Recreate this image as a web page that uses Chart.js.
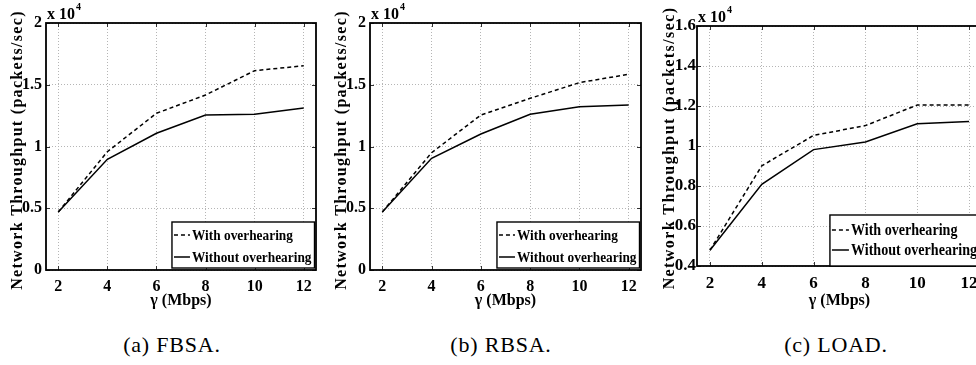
<!DOCTYPE html>
<html><head><meta charset="utf-8">
<script src="https://cdn.jsdelivr.net/npm/chart.js@4"></script>
<style>
html,body{margin:0;padding:0;background:#fff;width:976px;height:365px;overflow:hidden;position:relative}
canvas{position:absolute;top:0}
.cap{position:absolute;top:334px;font-family:"Liberation Serif",serif;font-size:22px;line-height:22px;color:#000;white-space:nowrap;transform:translateX(-50%);letter-spacing:0.8px}
</style></head><body>
<canvas id="ca" width="322" height="315" style="left:0px"></canvas>
<canvas id="cb" width="324" height="315" style="left:324px"></canvas>
<canvas id="cc" width="340" height="315" style="left:652px"></canvas>
<div class="cap" id="capA" style="left:172px"></div>
<div class="cap" id="capB" style="left:501px"></div>
<div class="cap" id="capC" style="left:836px"></div>
<script>
// ---- data ----
const gammaMbps = [2, 4, 6, 8, 10, 12];
const seriesLabels = ['With overhearing', 'Without overhearing'];
const fbsaWith    = [4700, 9580, 12690, 14170, 16140, 16540];
const fbsaWithout = [4700, 8960, 11070, 12550, 12610, 13120];
const rbsaWith    = [4700, 9500, 12550, 13900, 15170, 15850];
const rbsaWithout = [4700, 9040, 11010, 12610, 13220, 13360];
const loadWith    = [4790, 9010, 10530, 11020, 12050, 12050];
const loadWithout = [4790, 8080, 9820, 10200, 11110, 11220];
const yTicksAB = [0, 5000, 10000, 15000, 20000];
const yTicksC  = [4000, 6000, 8000, 10000, 12000, 14000, 16000];
const captions = ['(a) FBSA.', '(b) RBSA.', '(c) LOAD.'];
const yTitle = 'Network Throughput (packets/sec)';
const xTitle = 'γ (Mbps)';
const expBase = 'x 10', expPow = '4';

const FONT = '"Liberation Serif", "Times New Roman", serif';

const framePlugin = {
  id: 'matlabFrame',
  afterDatasetsDraw(chart, args, o) {
    const {ctx, chartArea: a, scales: {x, y}} = chart;
    ctx.save();
    // inward tick marks
    ctx.strokeStyle = '#333'; ctx.lineWidth = 1; ctx.setLineDash([]);
    ctx.beginPath();
    x.ticks.forEach(t => { const px = Math.round(x.getPixelForValue(t.value)) + 0.5;
      ctx.moveTo(px, a.bottom); ctx.lineTo(px, a.bottom - 4); ctx.moveTo(px, a.top); ctx.lineTo(px, a.top + 4); });
    y.ticks.forEach(t => { const py = Math.round(y.getPixelForValue(t.value)) + 0.5;
      ctx.moveTo(a.left, py); ctx.lineTo(a.left + 4, py); ctx.moveTo(a.right, py); ctx.lineTo(a.right - 4, py); });
    ctx.stroke();
    // axes box
    ctx.strokeStyle = '#000'; ctx.lineWidth = 1.8;
    ctx.strokeRect(a.left, a.top, a.right - a.left, a.bottom - a.top);
    // legend (inside, bottom right)
    const ds = chart.data.datasets;
    ctx.font = `bold ${o.legendFont}px ${FONT}`;
    const tw = Math.max(...ds.map(d => ctx.measureText(d.label).width)) * o.legendSX;
    const sample = o.sample;
    const w = 3 + sample + 2 + tw + 2;
    const h = o.legendH;
    const bx = a.right - o.legendGapR - w, by = a.bottom - o.legendGapB - h;
    ctx.fillStyle = '#fff'; ctx.fillRect(bx, by, w, h);
    ctx.lineWidth = 1.4; ctx.strokeRect(bx, by, w, h);
    ds.forEach((d, i) => {
      const cy = by + o.row1 + i * o.rowGap;
      ctx.setLineDash(d.borderDash || []); ctx.lineWidth = d.borderWidth; ctx.strokeStyle = d.borderColor;
      ctx.beginPath(); ctx.moveTo(bx + 2, cy); ctx.lineTo(bx + 2 + sample, cy); ctx.stroke();
      ctx.setLineDash([]);
      ctx.save();
      ctx.translate(bx + 4 + sample, cy + 1);
      ctx.scale(o.legendSX, 1);
      ctx.fillStyle = '#000'; ctx.textBaseline = 'middle'; ctx.textAlign = 'left';
      ctx.fillText(d.label, 0, 0);
      ctx.restore();
    });
    // exponent label
    ctx.fillStyle = '#000'; ctx.textBaseline = 'alphabetic'; ctx.textAlign = 'left';
    ctx.font = `bold ${o.expFont}px ${FONT}`;
    ctx.fillText(expBase, a.left + 1, a.top - 4);
    const ew = ctx.measureText(expBase).width;
    ctx.font = `bold ${Math.round(o.expFont * 0.65)}px ${FONT}`;
    ctx.fillText(expPow, a.left + 2 + ew, a.top - 13);
    // y-axis title
    ctx.translate(a.left - o.titleOff, o.titleCY);
    ctx.rotate(-Math.PI / 2);
    ctx.font = `bold ${o.titleFont}px ${FONT}`;
    ctx.letterSpacing = o.titleSpacing + 'px';
    ctx.textAlign = 'center'; ctx.textBaseline = 'middle';
    ctx.fillText(yTitle, 0, 0);
    ctx.restore();
  }
};

function fmt(v) { return String(+(v / 1e4).toFixed(2)); }

function makePanel(id, withArr, withoutArr, yTicks, p) {
  const pts = arr => gammaMbps.map((g, i) => ({x: g, y: arr[i]}));
  new Chart(document.getElementById(id), {
    type: 'line',
    data: {
      datasets: [
        {label: seriesLabels[0], data: pts(withArr), borderColor: '#000', borderWidth: 1.5, borderDash: [4, 3], pointRadius: 0, fill: false, tension: 0},
        {label: seriesLabels[1], data: pts(withoutArr), borderColor: '#000', borderWidth: 1.5, pointRadius: 0, fill: false, tension: 0}
      ]
    },
    options: {
      responsive: false, animation: false, devicePixelRatio: 1,
      layout: {padding: {left: 0, top: p.top, right: p.right, bottom: 0}},
      plugins: {legend: {display: false}, tooltip: {enabled: false}, matlabFrame: p.frame},
      scales: {
        x: {
          type: 'linear', min: 1.5, max: 12.5,
          afterBuildTicks: s => { s.ticks = gammaMbps.map(v => ({value: v})); },
          afterFit: s => { s.height = p.xh; },
          border: {display: false, dash: [1, 2]},
          grid: {color: '#b5b5b5', lineWidth: 1, drawTicks: false},
          ticks: {color: '#000', font: {family: FONT, size: p.tickFont, weight: 'bold'}, padding: p.xpad, maxRotation: 0, autoSkip: false},
          title: {display: true, text: xTitle, color: '#000', font: {family: FONT, size: 16, weight: 'bold'}, padding: {top: 0, bottom: p.xtpad}}
        },
        y: {
          type: 'linear', min: yTicks[0], max: yTicks[yTicks.length - 1],
          afterBuildTicks: s => { s.ticks = yTicks.map(v => ({value: v})); },
          afterFit: s => { s.width = p.yw; },
          border: {display: false, dash: [1, 2]},
          grid: {color: '#b5b5b5', lineWidth: 1, drawTicks: false},
          ticks: {color: '#000', font: {family: FONT, size: p.tickFont, weight: 'bold'}, padding: p.ypad, callback: v => fmt(v)},
          title: {display: false}
        }
      }
    },
    plugins: [framePlugin]
  });
}

const frameAB = {legendFont: 15, legendSX: 0.89, sample: 16, legendH: 46, legendGapR: 1.5, legendGapB: 2, row1: 13, rowGap: 22,
                 expFont: 16, titleOff: 28, titleCY: 150, titleFont: 16, titleSpacing: 1.3};
const frameC  = {legendFont: 16, legendSX: 0.88, sample: 17, legendH: 51, legendGapR: 2, legendGapB: 0, row1: 15, rowGap: 20,
                 expFont: 16, titleOff: 27, titleCY: 148, titleFont: 16, titleSpacing: 1.4};

makePanel('ca', fbsaWith, fbsaWithout, yTicksAB, {top: 23, right: 6, xh: 45, yw: 46, tickFont: 16, xpad: 7, ypad: 4, xtpad: 5, frame: frameAB});
makePanel('cb', rbsaWith, rbsaWithout, yTicksAB, {top: 23, right: 7, xh: 45, yw: 46, tickFont: 16, xpad: 7, ypad: 4, xtpad: 5, frame: frameAB});
makePanel('cc', loadWith, loadWithout, yTicksC, {top: 26, right: 10, xh: 49, yw: 45, tickFont: 17, xpad: 7, ypad: 1, xtpad: 5, frame: frameC});

document.getElementById('capA').textContent = captions[0];
document.getElementById('capB').textContent = captions[1];
document.getElementById('capC').textContent = captions[2];
</script>
</body></html>
